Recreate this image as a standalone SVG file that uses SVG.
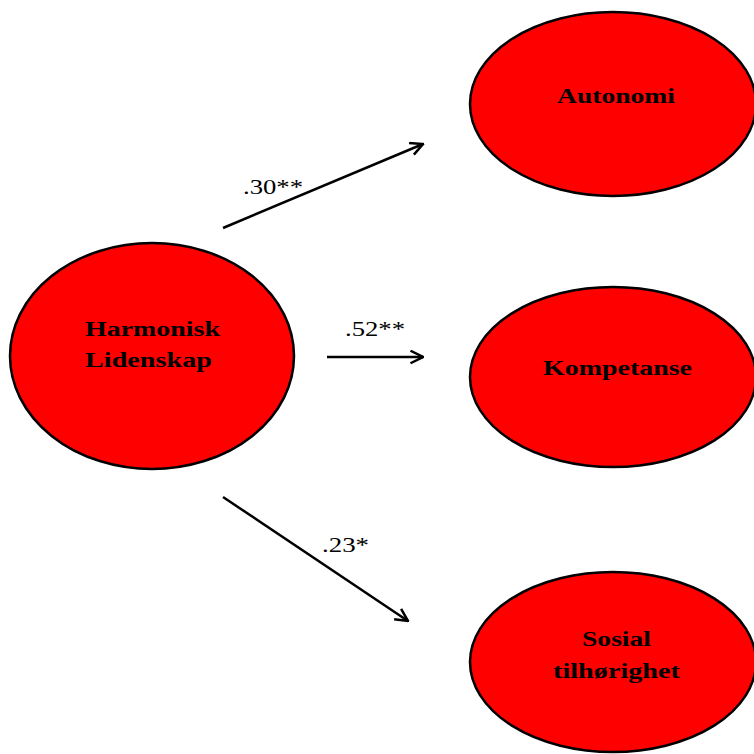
<svg xmlns="http://www.w3.org/2000/svg" width="754" height="754" viewBox="0 0 754 754">
<style>
.node ellipse{fill:#ff0000;stroke:#000;stroke-width:2.5}
.node text{font-family:"Liberation Serif","Times New Roman",serif;font-weight:bold;font-size:22px;fill:#000}
.lbl{font-family:"Liberation Serif","Times New Roman",serif;font-size:21px;fill:#000}
.conn line{stroke:#000;stroke-width:2.5;marker-end:url(#arr)}
</style>
<defs>
<marker id="arr" viewBox="0 0 12 12" refX="11" refY="6" markerWidth="6" markerHeight="6" markerUnits="strokeWidth" orient="auto">
<path d="M1,1 L11,6 L1,11" fill="none" stroke="#000" stroke-width="2"/>
</marker>
</defs>
<rect width="754" height="754" fill="#fff"/>
<g id="harmonisk" class="node">
<ellipse cx="152" cy="356" rx="142" ry="113"/>
<text x="85" y="336" textLength="135" lengthAdjust="spacingAndGlyphs">Harmonisk</text>
<text x="85" y="367" textLength="127" lengthAdjust="spacingAndGlyphs">Lidenskap</text>
</g>
<g id="autonomi" class="node">
<ellipse cx="613" cy="104" rx="143" ry="92"/>
<text x="557" y="103" textLength="118" lengthAdjust="spacingAndGlyphs">Autonomi</text>
</g>
<g id="kompetanse" class="node">
<ellipse cx="613" cy="377" rx="143" ry="90"/>
<text x="543" y="375" textLength="149" lengthAdjust="spacingAndGlyphs">Kompetanse</text>
</g>
<g id="sosial" class="node">
<ellipse cx="613" cy="662" rx="143" ry="90"/>
<text x="582" y="646" textLength="69" lengthAdjust="spacingAndGlyphs">Sosial</text>
<text x="553" y="678" textLength="127" lengthAdjust="spacingAndGlyphs">tilhørighet</text>
</g>
<g id="connectors" class="conn">
<line x1="223" y1="228" x2="423" y2="144"/>
<line x1="327" y1="357" x2="423" y2="357"/>
<line x1="223" y1="497" x2="408" y2="621"/>
<text class="lbl" x="243" y="194" textLength="60" lengthAdjust="spacingAndGlyphs">.30**</text>
<text class="lbl" x="345" y="336" textLength="60" lengthAdjust="spacingAndGlyphs">.52**</text>
<text class="lbl" x="322" y="552" textLength="47" lengthAdjust="spacingAndGlyphs">.23*</text>
</g>
</svg>
